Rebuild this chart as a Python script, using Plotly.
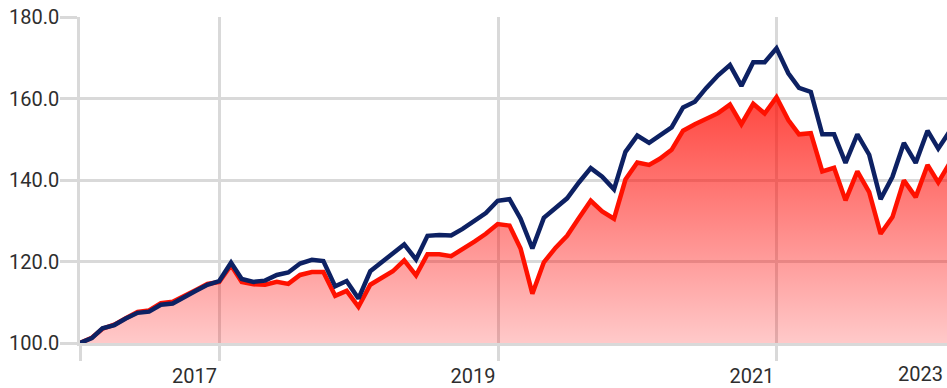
import pandas as pd
import plotly.graph_objects as go

# Month-end observation dates, Dec 2016 .. Mar 2023
dates = pd.date_range("2016-12-31", "2023-03-31", freq="ME")

# Growth of 100 - benchmark (navy) and fund (red)
benchmark = [
    100.0, 101.2, 103.6, 104.4, 106.0, 107.4, 107.7, 109.4, 109.7, 111.1, 112.8, 114.3,
    115.2, 119.7, 115.7, 115.0, 115.3, 116.7, 117.3, 119.5, 120.4, 120.1, 113.9, 115.2,
    110.9, 117.6, 119.6, 121.8, 124.2, 120.5, 126.3, 126.5, 126.4, 128.0, 130.0, 131.9,
    134.9, 135.3, 130.5, 123.2, 130.7, 133.1, 135.5, 139.4, 142.9, 140.8, 137.7, 146.9,
    150.9, 149.1, 150.8, 152.9, 157.8, 159.2, 162.6, 165.7, 168.2, 163.1, 168.9, 168.9,
    172.3, 166.2, 162.6, 161.6, 151.2, 151.2, 144.2, 151.2, 146.2, 135.3, 140.8, 149.1,
    144.2, 152.1, 147.7, 152.1,
]
fund = [
    100.0, 101.3, 103.5, 104.5, 106.1, 107.6, 108.0, 109.8, 110.1, 111.4, 113.0, 114.5,
    115.0, 119.1, 115.0, 114.4, 114.3, 115.0, 114.5, 116.7, 117.4, 117.4, 111.6, 112.8,
    108.9, 114.3, 116.0, 117.6, 120.3, 116.6, 121.8, 121.8, 121.3, 123.0, 124.9, 126.8,
    129.2, 128.8, 123.2, 112.1, 119.8, 123.4, 126.3, 130.7, 134.9, 132.3, 130.5, 140.1,
    144.3, 143.7, 145.2, 147.4, 152.1, 153.7, 155.1, 156.4, 158.5, 153.7, 158.7, 156.3,
    160.3, 154.7, 151.2, 151.5, 142.1, 143.0, 135.0, 142.1, 137.0, 126.8, 130.9, 139.9,
    135.8, 143.7, 139.4, 144.3,
]

# Axis ticks: gridlines at the start and every second January, year labels to their left
x_tick_vals = ["2016-12-31", "2018-01-01", "2020-01-01", "2022-01-01"]
x_tick_text = ["", "2017", "2019", "2021"]
last_year_label = "2023"
y_tick_vals = [100, 120, 140, 160, 180]

GRID = "#d9d9d9"
TEXT = "#2e2e2e"
FONT = "Roboto, sans-serif"
FONT_SIZE = 20

fig = go.Figure()

fig.add_trace(go.Scatter(
    x=dates, y=fund, mode="lines",
    line=dict(color="#ff1100", width=4.5),
    fill="tozeroy",
    fillgradient=dict(
        type="vertical",
        start=100, stop=max(fund),
        colorscale=[[0, "rgba(255,0,0,0.2)"], [1, "rgba(255,10,0,0.75)"]],
    ),
    hoverinfo="skip", showlegend=False,
))
fig.add_trace(go.Scatter(
    x=dates, y=benchmark, mode="lines",
    line=dict(color="#0d2163", width=4.5),
    hoverinfo="skip", showlegend=False,
))

fig.update_layout(
    width=947, height=388,
    margin=dict(l=80, r=0, t=17, b=40),
    paper_bgcolor="white", plot_bgcolor="white",
    font=dict(family=FONT, size=FONT_SIZE, color=TEXT),
    annotations=[dict(
        text=last_year_label, xref="paper", yref="paper",
        x=1, y=0, xanchor="right", yanchor="top",
        xshift=-2, yshift=-17, showarrow=False,
        font=dict(family=FONT, size=FONT_SIZE, color=TEXT),
    )],
)

fig.update_xaxes(
    type="date",
    range=["2016-12-31", "2023-03-23"],
    tickvals=x_tick_vals, ticktext=x_tick_text,
    ticklabelshift=-25, ticklabelstandoff=-2,
    ticks="outside", ticklen=15, tickwidth=2.5, tickcolor=GRID,
    showgrid=True, gridcolor=GRID, gridwidth=2.5,
    showline=True, linecolor=GRID, linewidth=2.5,
    zeroline=False, layer="below traces",
    tickfont=dict(family=FONT, size=FONT_SIZE, color=TEXT),
)
fig.update_yaxes(
    range=[100, 180],
    tickvals=y_tick_vals, tickformat=".1f",
    ticklabelstandoff=-3,
    ticks="outside", ticklen=17, tickwidth=2.5, tickcolor=GRID,
    showgrid=True, gridcolor=GRID, gridwidth=2.5,
    showline=True, linecolor=GRID, linewidth=2.5,
    zeroline=False, layer="below traces",
    tickfont=dict(family=FONT, size=FONT_SIZE, color=TEXT),
)

fig.write_html("out.html")
